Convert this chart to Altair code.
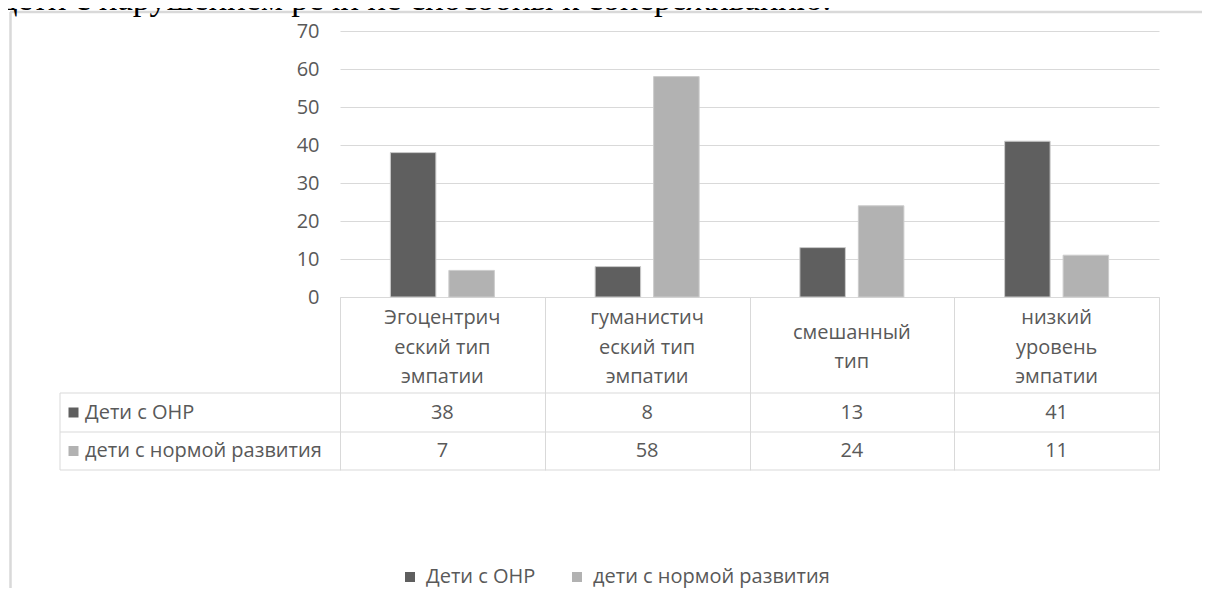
import altair as alt
import pandas as pd

# ---- data ----
categories = ["Эгоцентрический тип эмпатии", "гуманистический тип эмпатии",
              "смешанный тип", "низкий уровень эмпатии"]
header_lines = ["Эгоцентрич\nеский тип\nэмпатии", "гуманистич\nеский тип\nэмпатии",
                "смешанный\nтип", "низкий\nуровень\nэмпатии"]
series = ["Дети с ОНР", "дети с нормой развития"]
values_onr = [38, 8, 13, 41]
values_norm = [7, 58, 24, 11]
y_ticks = [0, 10, 20, 30, 40, 50, 60, 70]
title_text = "дети с нарушением речи не способны к сопереживанию."

# ---- style ----
colors = ["#5f5f5f", "#b2b2b2"]
FONT = "Open Sans"
FS = 20
TXT = "#595959"
LINE = "#d9d9d9"
LH = 29.5

rows = []
for s, vals in zip(series, [values_onr, values_norm]):
    for c, v in zip(categories, vals):
        rows.append({"category": c, "series": s, "value": v})
df = pd.DataFrame(rows)
one = pd.DataFrame({"a": [0]})

xscale = alt.Scale(domain=categories, paddingInner=0, paddingOuter=0)
xenc = alt.X("category:N", scale=xscale,
             axis=alt.Axis(title=None, labels=False, domain=True, domainColor=LINE,
                           domainWidth=1, ticks=True, tickBand="extent", tickSize=173,
                           tickColor=LINE, tickWidth=1, grid=False))

bars = alt.Chart(df).mark_bar(stroke="#cccccc", strokeWidth=1).encode(
    x=xenc,
    xOffset=alt.XOffset("series:N", scale=alt.Scale(domain=series, paddingInner=0.222,
                                                    paddingOuter=0.861)),
    y=alt.Y("value:Q", scale=alt.Scale(domain=[0, 70], nice=False),
            axis=alt.Axis(title=None, values=y_ticks, domain=False, ticks=False, grid=True,
                          gridColor=LINE, gridWidth=1, labelFont=FONT, labelFontSize=FS,
                          labelColor=TXT, labelPadding=21)),
    color=alt.Color("series:N", scale=alt.Scale(domain=series, range=colors),
                    legend=alt.Legend(orient="none", legendX=60, legendY=536,
                                      direction="horizontal", title=None,
                                      symbolType="square", symbolSize=100,
                                      symbolStrokeWidth=0, labelFont=FONT,
                                      labelFontSize=FS, labelColor=TXT, labelOffset=6,
                                      labelLimit=0, columnPadding=31, padding=0)),
)

layers = []
# header cells (category names, wrapped), vertically centred in the header row
head_center = 316.5
for c, lbl in zip(categories, header_lines):
    n = lbl.count("\n") + 1
    sub = pd.DataFrame({"category": [c], "label": [lbl]})
    layers.append(alt.Chart(sub).mark_text(font=FONT, fontSize=FS, color=TXT, lineBreak="\n",
                                           lineHeight=LH, baseline="middle",
                                           align="center").encode(
        x=alt.X("category:N", scale=xscale),
        y=alt.value(head_center - (n - 1) * LH / 2), text="label:N"))

row_y = [381.5, 420]
for s, col, ry in zip(series, colors, row_y):
    sub = df[df.series == s]
    layers.append(alt.Chart(sub).mark_text(font=FONT, fontSize=FS, color=TXT,
                                           baseline="middle", align="center").encode(
        x=alt.X("category:N", scale=xscale), y=alt.value(ry), text="value:Q"))
    lab = pd.DataFrame({"series": [s]})
    layers.append(alt.Chart(lab).mark_square(size=100, color=col, opacity=1).encode(
        x=alt.value(-266.5), y=alt.value(ry)))
    layers.append(alt.Chart(lab).mark_text(font=FONT, fontSize=FS, color=TXT,
                                           baseline="middle", align="left").encode(
        x=alt.value(-255), y=alt.value(ry), text="series:N"))

# table borders
for yy in [362, 401, 439]:
    layers.append(alt.Chart(one).mark_rule(color=LINE, strokeWidth=1).encode(
        x=alt.value(-280), x2=alt.value(819), y=alt.value(yy)))
layers.append(alt.Chart(one).mark_rule(color=LINE, strokeWidth=1).encode(
    x=alt.value(-280), y=alt.value(362), y2=alt.value(439)))

# outer frame
layers.append(alt.Chart(one).mark_rule(color=LINE, strokeWidth=2.5).encode(
    x=alt.value(-330), x2=alt.value(870), y=alt.value(-19)))
layers.append(alt.Chart(one).mark_rule(color=LINE, strokeWidth=2.5).encode(
    x=alt.value(-329.5), y=alt.value(-19), y2=alt.value(572)))

# cut-off document text above the chart
layers.append(alt.Chart(pd.DataFrame({"t": [title_text]})).mark_text(
    font="Liberation Serif", fontSize=34.5, color="#000000", align="left",
    baseline="alphabetic").encode(x=alt.value(-340), y=alt.value(-21), text="t:N"))

chart = alt.layer(bars, *layers).properties(
    width=819, height=266,
    padding={"left": 332, "top": 23, "right": 43, "bottom": 291},
    autosize=alt.AutoSizeParams(type="none"),
).configure_view(strokeWidth=0)

chart.save("out.html", embed_options={"renderer": "svg", "actions": False})
